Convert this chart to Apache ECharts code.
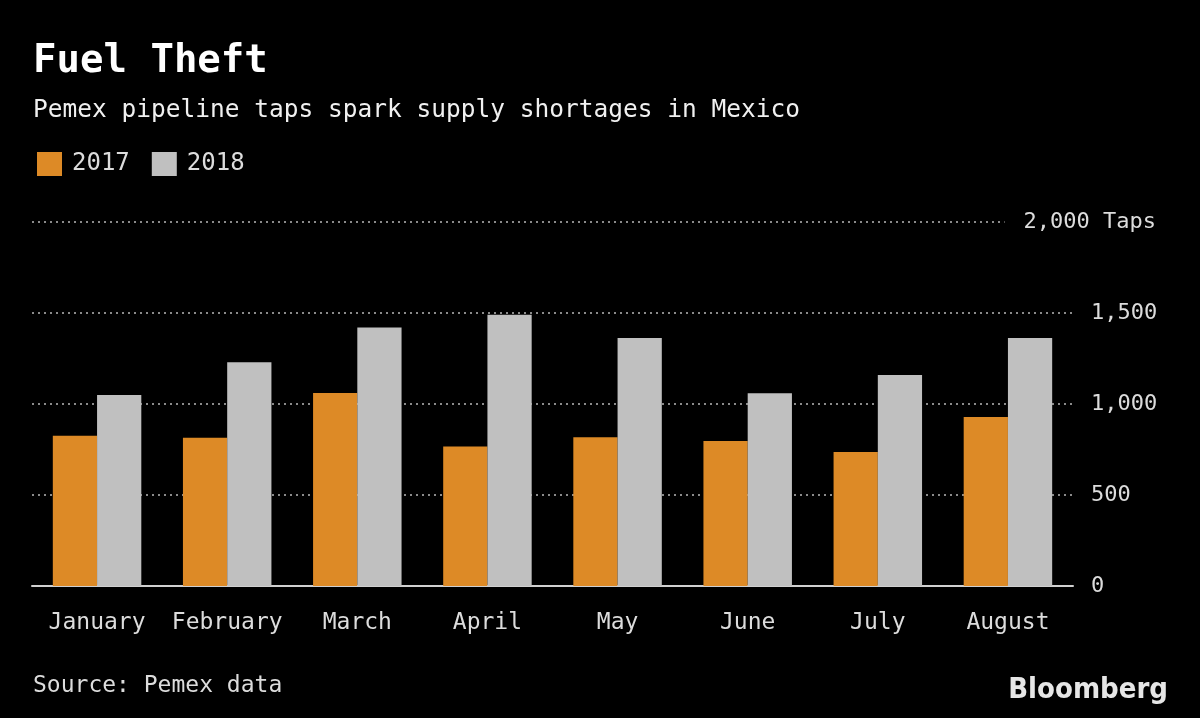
<!DOCTYPE html>
<html><head><meta charset="utf-8">
<script src="https://cdn.jsdelivr.net/npm/echarts@6/dist/echarts.min.js"></script>
<style>html,body{margin:0;padding:0;background:#000}#c{width:1200px;height:718px}</style>
</head><body><div id="c"></div>
<script>
const months = ['January','February','March','April','May','June','July','August'];
const taps2017 = [825, 815, 1060, 767, 817, 797, 736, 929];
const taps2018 = [1050, 1230, 1420, 1490, 1363, 1059, 1159, 1363];
const yTicks = {0:'0', 500:'500', 1000:'1,000', 1500:'1,500', 2000:'2,000 Taps'};
const FONT = '"DejaVu Sans Mono", "Liberation Mono", monospace';
const chart = echarts.init(document.getElementById('c'));
chart.setOption({
  backgroundColor: '#000',
  textStyle: {fontFamily: FONT},
  title: [
    {text: 'Fuel Theft', left: 28, top: 37, textStyle: {color: '#fff', fontSize: 39, fontWeight: 'bold', fontFamily: FONT}},
    {text: 'Pemex pipeline taps spark supply shortages in Mexico', left: 28, top: 93, textStyle: {color: '#f0f0f0', fontSize: 24.5, fontWeight: 'normal', fontFamily: FONT}},
    {text: 'Source: Pemex data', left: 28, top: 670, textStyle: {color: '#dcdcdc', fontSize: 23, fontWeight: 'normal', fontFamily: FONT}},
    {text: 'Bloomberg', right: 27, top: 671, textStyle: {color: '#e6e6e6', fontSize: 29, fontWeight: 'bold', fontFamily: '"Liberation Sans Narrow", "DejaVu Sans Condensed", sans-serif'}}
  ],
  legend: {
    left: 32, top: 147, itemWidth: 25, itemHeight: 24, itemGap: 22, icon: 'rect',
    textStyle: {color: '#dcdcdc', fontSize: 24, fontFamily: FONT, padding: [0,0,0,5]},
    data: ['2017','2018']
  },
  grid: {left: 32, right: 127, top: 222, bottom: 132, containLabel: false},
  xAxis: {
    type: 'category', data: months,
    axisLine: {lineStyle: {color: '#d0d0d0', width: 2}},
    axisTick: {alignWithLabel: true, interval: 0, length: 10, lineStyle: {color: '#d0d0d0', width: 2}},
    axisLabel: {color: '#dcdcdc', fontSize: 23, margin: 26, interval: 0, fontFamily: FONT}
  },
  yAxis: {
    type: 'value', position: 'right', min: 0, max: 2000, interval: 500,
    axisLine: {show: false}, axisTick: {show: false},
    splitLine: {lineStyle: {color: '#8a8a8a', width: 2, type: [2, 4]}},
    axisLabel: {
      color: '#dcdcdc', fontSize: 22, margin: 83, align: 'right', fontFamily: FONT,
      formatter: v => v === 2000 ? '{top|' + yTicks[v] + '}' : '{n|' + yTicks[v] + '}',
      rich: {
        n: {width: 65, align: 'left', color: '#dcdcdc', fontSize: 22, fontFamily: FONT},
        top: {align: 'right', color: '#dcdcdc', fontSize: 22, fontFamily: FONT, backgroundColor: '#000', padding: [2, 0, 2, 19]}
      }
    }
  },
  series: [
    {name: '2017', type: 'bar', data: taps2017, barGap: '0%', barCategoryGap: '32%', itemStyle: {color: '#dd8a26'}},
    {name: '2018', type: 'bar', data: taps2018, barGap: '0%', barCategoryGap: '32%', itemStyle: {color: '#c0c0c0'}}
  ]
});
</script></body></html>
